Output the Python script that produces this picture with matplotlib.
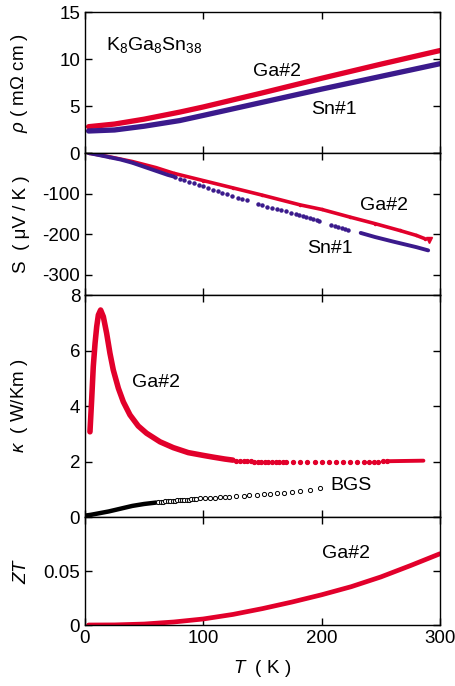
import matplotlib
matplotlib.use('Agg')
import matplotlib.pyplot as plt

plt.rcParams['font.family'] = ['Liberation Sans', 'DejaVu Sans']
plt.rcParams['mathtext.fontset'] = 'custom'
plt.rcParams['mathtext.rm'] = 'Liberation Sans'
plt.rcParams['mathtext.it'] = 'Liberation Sans:italic'
plt.rcParams['axes.unicode_minus'] = False
plt.rcParams['lines.solid_joinstyle'] = 'round'
plt.rcParams['lines.solid_capstyle'] = 'round'

RED = '#e2002b'
PURPLE = '#3b1a8c'

# resistivity (mOhm cm)
rho_T = [3, 25, 50, 80, 100, 150, 200, 250, 300]
rho_ga2 = [2.8, 3.08, 3.6, 4.35, 4.9, 6.4, 7.95, 9.45, 10.9]
rho_sn1 = [2.34, 2.45, 2.85, 3.45, 4.0, 5.4, 6.8, 8.15, 9.5]

# Seebeck (uV/K)
s_ga2_T = [3, 20, 40, 60, 75, 100, 125, 150, 182, 200, 224, 245, 266, 280, 287]
s_ga2 = [0, -9, -21, -36, -50, -68, -86, -104, -128, -139, -158, -174, -191, -203, -211]
s_ga2_last_T = [291]
s_ga2_last = [-215]
s_sn1_dense_T = [3, 10, 20, 30, 40, 50, 60, 70, 75]
s_sn1_dense = [0, -4, -10, -16, -24, -34, -44, -54, -58]
s_sn1_dot_T = [76, 80, 84, 88, 92, 96, 100, 104, 108, 112, 116, 120, 124, 129, 133, 137,
               146, 150, 154, 158, 162, 166, 170, 174, 178, 181, 184, 187, 190, 193, 196, 198,
               208, 211, 214, 217, 220, 222]
s_sn1_dot = [-59, -63, -67, -71, -75, -79, -82, -86, -90, -94, -98, -101, -105, -110, -114, -117,
             -126, -129, -132, -135, -138, -141, -144, -147, -150, -152, -155, -157, -160, -163, -165, -167,
             -177, -180, -182, -185, -187, -189]
s_sn1_end_T = [233, 245, 260, 270, 280, 290]
s_sn1_end = [-197, -207, -218, -225, -232, -240]

# thermal conductivity (W/Km)
k_ga2_T = [4.2, 5.6, 7.0, 8.5, 9.9, 11.3, 13.2, 15.5, 18.3, 21.1, 23.9, 28.2, 32.4, 38, 45, 52,
           63.4, 74.6, 87.3, 100, 108, 118, 125]
k_ga2 = [3.07, 4.2, 5.42, 6.26, 6.86, 7.28, 7.46, 7.22, 6.62, 5.9, 5.3, 4.64, 4.15, 3.68, 3.28, 3.02,
         2.71, 2.5, 2.32, 2.22, 2.16, 2.09, 2.05]
k_ga2_dot_T = [128, 131, 134, 137, 140, 143, 146, 149, 152, 155, 158, 161, 164, 167, 170,
               176, 182, 188, 194, 200, 206, 212, 218, 224, 230, 236, 240, 244, 248, 252, 255]
k_ga2_dot = [2.03, 2.02, 2.02, 2.01, 2.01, 2.0, 2.0, 2.0, 1.99, 1.99, 1.99, 1.99, 1.98, 1.98, 1.98,
             1.98, 1.98, 1.98, 1.98, 1.98, 1.98, 1.99, 1.99, 1.99, 1.99, 2.0, 2.0, 2.0, 2.0, 2.01, 2.01]
k_ga2_end_T = [255, 270, 286]
k_ga2_end = [2.01, 2.02, 2.03]
k_bgs_dense_T = [0, 5, 10, 20, 30, 40, 50, 60]
k_bgs_dense = [0.05, 0.08, 0.12, 0.2, 0.3, 0.4, 0.47, 0.52]
k_bgs_T = [62, 64, 66, 68, 70, 72, 74, 76, 78, 80, 82, 84, 86, 88, 90, 92, 94,
           97, 101, 106, 110, 114, 118, 122, 128, 134, 139, 145, 151, 156, 162, 168, 175, 182, 190, 199]
k_bgs = [0.53, 0.54, 0.55, 0.56, 0.57, 0.57, 0.58, 0.59, 0.6, 0.61, 0.61, 0.62, 0.63, 0.63, 0.64, 0.65, 0.66,
         0.67, 0.68, 0.69, 0.7, 0.71, 0.72, 0.73, 0.75, 0.77, 0.79, 0.81, 0.83, 0.84, 0.86, 0.88, 0.91, 0.94, 0.99, 1.05]

# figure of merit
zt_T = [3, 25, 50, 75, 100, 125, 150, 175, 200, 225, 250, 275, 300]
zt_ga2 = [0, 0.0001, 0.0009, 0.0028, 0.0056, 0.0098, 0.0152, 0.0213, 0.028, 0.0355, 0.0445, 0.055, 0.066]

fig = plt.figure(figsize=(4.55, 6.86), dpi=100)
gs = fig.add_gridspec(4, 1, height_ratios=[141, 142, 222, 108], hspace=0,
                      left=0.1868, right=0.967, bottom=0.0889, top=0.9825)
axes = [fig.add_subplot(gs[i]) for i in range(4)]

for ax in axes:
    ax.set_xlim(0, 300)
    ax.set_xticks([0, 100, 200, 300])
    ax.tick_params(direction='in', top=True, right=True, length=5, width=1, labelsize=13.5)
    for sp in ax.spines.values():
        sp.set_linewidth(1)
    ax.yaxis.set_label_coords(-0.155, 0.5)
for ax in axes[:3]:
    ax.tick_params(labelbottom=False)

# rho
ax = axes[0]
ax.plot(rho_T, rho_ga2, color=RED, lw=3.8)
ax.plot(rho_T, rho_sn1, color=PURPLE, lw=3.8)
ax.set_ylim(0, 15)
ax.set_yticks([0, 5, 10, 15])
ax.set_ylabel(r'$\rho$ ( m$\Omega$ cm )', fontsize=13.5)
ax.text(17.7, 11.5, r'K$_\mathrm{8}$Ga$_\mathrm{8}$Sn$_\mathrm{38}$', fontsize=14, ha='left', va='center')
ax.text(162, 8.72, 'Ga#2', fontsize=14, ha='center', va='center')
ax.text(210, 4.63, 'Sn#1', fontsize=14, ha='center', va='center')

# S
ax = axes[1]
ax.plot(s_ga2_T, s_ga2, color=RED, lw=2.6, marker='o', ms=1.5)
ax.plot(s_ga2_last_T, s_ga2_last, 'v', color=RED, ms=4)
ax.plot(s_sn1_dense_T, s_sn1_dense, color=PURPLE, lw=2.8)
ax.plot(s_sn1_dot_T, s_sn1_dot, 'o', color=PURPLE, ms=2.2)
ax.plot(s_sn1_end_T, s_sn1_end, color=PURPLE, lw=2.8)
ax.set_ylim(-350, 0)
ax.set_yticks([0, -100, -200, -300])
ax.set_yticklabels(['', '-100', '-200', '-300'])
ax.set_ylabel('S  ( \u03bcV / K )', fontsize=13.5)
ax.text(252.7, -129.5, 'Ga#2', fontsize=14, ha='center', va='center')
ax.text(206.6, -236, 'Sn#1', fontsize=14, ha='center', va='center')

# kappa
ax = axes[2]
ax.plot(k_ga2_T, k_ga2, color=RED, lw=4)
ax.plot(k_ga2_dot_T, k_ga2_dot, 'o', color=RED, ms=2.8)
ax.plot(k_ga2_end_T, k_ga2_end, color=RED, lw=2.8)
ax.plot(k_bgs_dense_T, k_bgs_dense, color='black', lw=3.2)
ax.plot(k_bgs_T, k_bgs, 'o', mfc='white', mec='black', mew=0.7, ms=3)
ax.set_ylim(0, 8)
ax.set_yticks([0, 2, 4, 6, 8])
ax.set_ylabel(r'$\kappa$  ( W/Km )', fontsize=13.5)
ax.text(59.6, 4.85, 'Ga#2', fontsize=14, ha='center', va='center')
ax.text(224.8, 1.12, 'BGS', fontsize=14, ha='center', va='center')

# ZT
ax = axes[3]
ax.plot(zt_T, zt_ga2, color=RED, lw=3.4)
ax.set_ylim(0, 0.1)
ax.set_yticks([0, 0.05, 0.1])
ax.set_yticklabels(['0', '0.05', ''])
ax.set_ylabel(r'$ZT$', fontsize=13.5)
ax.text(220.5, 0.0662, 'Ga#2', fontsize=14, ha='center', va='center')
ax.set_xticklabels(['0', '100', '200', '300'])
ax.set_xlabel(r'$T$  ( K )', fontsize=13.5, labelpad=8)

fig.savefig('out.png', dpi=100)
